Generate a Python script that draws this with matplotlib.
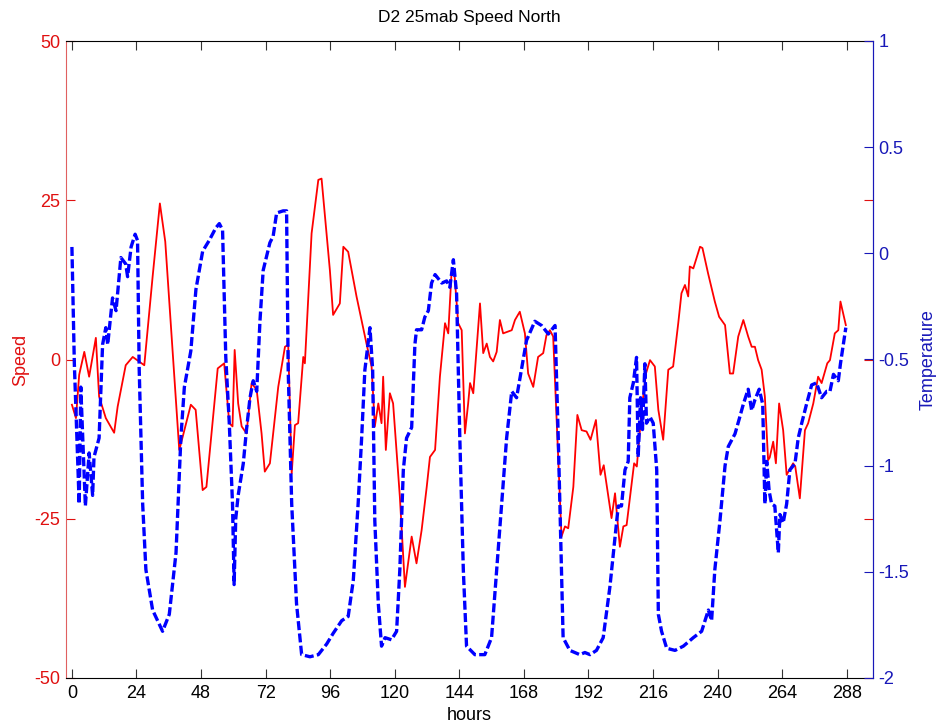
import matplotlib
matplotlib.use("Agg")
import matplotlib.pyplot as plt

plt.rcParams['font.family'] = ['Liberation Sans', 'DejaVu Sans']

# speed (red, left axis)
speed_hours = [0, 1.5, 2.7, 4.6, 6.4, 8.9, 10.1, 12.6, 15.7, 17,
               20, 22.6, 26.9, 30, 32.7, 34.7, 39.9, 41.2, 44.2, 46,
               48.6, 50, 54.2, 56.6, 58.5, 59.7, 60.5, 61.8, 63.1, 64.9,
               66.8, 68.7, 70.5, 71.7, 73.6, 76.7, 79.2, 80.4, 81.7, 82.9,
               84.1, 86, 86.6, 89.1, 91.6, 92.8, 95.9, 97.1, 99.6, 100.9,
               102.7, 105.8, 109.5, 111.4, 112.6, 113.9, 115.1, 115.7, 116.7, 118.2,
               119.4, 121.9, 123.8, 126.3, 128.1, 130, 131.9, 133.1, 135, 136.8,
               138.7, 139.9, 141.1, 142.1, 143.6, 144.9, 146.1, 147.3, 148, 149.2,
               151.7, 152.9, 154.2, 155.4, 156.6, 157.9, 159.1, 160.3, 163.5, 164.7,
               166.5, 168.4, 169.6, 171.5, 173.3, 175.2, 176.4, 177.7, 178.9, 182,
               183.3, 184.5, 186.4, 187.9, 189.5, 191.3, 192.8, 194.8, 196.5, 197.7,
               200.6, 201.9, 203.7, 205, 206.2, 209, 210, 211.8, 213.4, 214.9,
               216.7, 218, 219.8, 221.7, 223.5, 225.4, 226.6, 227.9, 229.1, 229.7,
               231, 233.5, 234.4, 236.5, 239, 240.6, 242.8, 244.6, 245.8, 247.7,
               249.6, 251.4, 252.7, 253.9, 255.1, 256.4, 257.6, 258.8, 259.4, 260.7,
               261.7, 262.9, 264.4, 265.7, 268.1, 268.9, 270.6, 272.5, 273.7, 275.6,
               277.4, 278.7, 280.8, 281.8, 283.6, 284.9, 285.7, 287.7]
speed = [-7.1, -9.2, -2.4, 1.2, -2.7, 3.4, -5.8, -9.2, -11.5, -7.4,
         -0.9, 0.4, -0.9, 13, 24.5, 18.5, -14.2, -12.1, -7.1, -7.9,
         -20.5, -20, -1.4, -0.6, -10, -10.5, 1.5, -6.9, -10.5, -11.6,
         -3.7, -4.8, -11.6, -17.6, -16.3, -4.3, 2, 2.3, -17.9, -10.3,
         -10, 0.4, -0.6, 19.8, 28.2, 28.4, 14, 7, 8.8, 17.7,
         16.9, 9.9, 2.5, -1.1, -10.5, -6.9, -10, -2.7, -14.2, -5.3,
         -6.9, -21.5, -35.7, -27.8, -32, -26.8, -20, -15.3, -14.2, -2.7,
         5.7, 4.1, 13.5, 14, 5.7, 4.6, -11.6, -6.9, -3.7, -5.3,
         8.8, 1, 2.5, 0.4, -0.3, 1.2, 6.2, 4.1, 4.6, 6.2,
         7.5, 4.1, -2.2, -4.3, 0.4, 1, 3.8, 4.6, 3.6, -27.8,
         -26.2, -26.5, -20, -8.7, -11.1, -11.3, -12.6, -9.5, -18.1, -16.6,
         -24.9, -21, -29.4, -26.2, -26, -16.3, -16.8, -7.9, -2.2, -0.1,
         -1.1, -7.9, -12.6, -1.6, -1.1, 5.7, 10.4, 11.7, 9.9, 14.6,
         14.3, 17.7, 17.5, 13.5, 9.1, 6.7, 5.4, -2.2, -2.2, 3.6,
         6.2, 3.6, 2, 2, -0.1, -1.6, -5.8, -15.8, -15.4, -12.9,
         -16.3, -6.9, -11.1, -18.1, -16.3, -16.8, -21.8, -11.1, -10, -6.9,
         -2.7, -3.7, -0.6, -0.1, 4.1, 4.6, 9.1, 5.4]

# temperature (blue, right axis)
temp_hours = [0, 0.9, 2.7, 3.3, 5, 6.4, 7.7, 8.2, 10.1, 11.4,
              12.6, 13.3, 15.1, 16.4, 18.2, 20, 20.7, 22, 23.5, 24.4,
              25, 26.3, 27.5, 30, 33.7, 36.2, 38.7, 40.5, 41.8, 44.2,
              46.1, 48.6, 51, 53.5, 54.8, 56, 57.2, 58.5, 59.7, 60.3,
              60.9, 61.8, 63.7, 64.9, 66.2, 67.4, 68.7, 69.9, 71.1, 73.6,
              74.8, 76.1, 78.5, 79.8, 80.4, 81.7, 83.5, 85.4, 88.5, 91.6,
              94.7, 97.1, 100.3, 102.7, 104.6, 106.4, 107.7, 108.9, 110.8, 111.8,
              112.6, 113.9, 115.1, 116.4, 118.8, 120.7, 121.9, 123.2, 124.4, 126.3,
              127.5, 128.1, 130, 131.2, 132.5, 133.7, 135, 137.5, 139.3, 140.5,
              141.8, 143, 144.2, 145.5, 146.7, 149.8, 153.5, 156, 157.9, 159.7,
              161.6, 163.5, 165.3, 167.2, 169, 172.1, 174.6, 177.1, 179.6, 180.8,
              182, 182.6, 185.1, 188.8, 190.7, 192.6, 195, 197.5, 200, 201.9,
              203.1, 204.3, 205.6, 206.8, 207.4, 208.7, 209.9, 210.5, 211.4, 212.1,
              213, 213.6, 214.9, 216.1, 217.4, 218, 219.2, 221.1, 224.2, 227.3,
              231, 234.1, 236.6, 237.8, 239, 240.9, 242.8, 244, 246.5, 248.3,
              249.6, 251.4, 252.7, 253.9, 255.5, 256.8, 257.6, 258.3, 259.2, 260.1,
              261.3, 262.6, 263.2, 264.4, 265.7, 266.9, 268.8, 270, 271.3, 273.1,
              275, 276.8, 278.7, 280.6, 281.8, 283.1, 284.9, 285.7, 287.7]
temp = [0.03, -0.52, -1.18, -0.63, -1.19, -0.94, -1.14, -0.96, -0.87, -0.43,
        -0.35, -0.43, -0.21, -0.27, -0.02, -0.05, -0.11, 0.03, 0.09, 0.06,
        -0.54, -1.18, -1.49, -1.68, -1.78, -1.70, -1.41, -0.87, -0.63, -0.46,
        -0.17, 0.01, 0.06, 0.12, 0.14, 0.11, -0.49, -0.80, -1.18, -1.56,
        -1.25, -1.14, -0.99, -0.83, -0.68, -0.60, -0.65, -0.32, -0.08, 0.05,
        0.08, 0.19, 0.20, 0.20, -0.55, -1.18, -1.65, -1.89, -1.90, -1.89,
        -1.84, -1.79, -1.73, -1.71, -1.54, -1.18, -0.87, -0.55, -0.35, -0.55,
        -1.26, -1.65, -1.85, -1.81, -1.82, -1.78, -1.49, -1.02, -0.87, -0.82,
        -0.43, -0.36, -0.36, -0.30, -0.27, -0.14, -0.10, -0.14, -0.13, -0.16,
        -0.03, -0.19, -0.87, -1.49, -1.85, -1.89, -1.89, -1.81, -1.49, -1.18,
        -0.87, -0.65, -0.68, -0.54, -0.41, -0.32, -0.34, -0.38, -0.34, -0.87,
        -1.49, -1.81, -1.87, -1.89, -1.88, -1.89, -1.87, -1.81, -1.57, -1.34,
        -1.19, -1.19, -1.02, -0.98, -0.68, -0.61, -0.49, -0.96, -0.68, -0.83,
        -0.52, -0.80, -0.77, -0.80, -1.02, -1.70, -1.78, -1.86, -1.87, -1.85,
        -1.81, -1.78, -1.68, -1.73, -1.49, -1.26, -1.0, -0.91, -0.85, -0.77,
        -0.71, -0.64, -0.74, -0.69, -0.64, -0.71, -1.18, -0.98, -1.12, -1.18,
        -1.19, -1.41, -1.23, -1.27, -1.18, -1.02, -0.99, -0.87, -0.80, -0.71,
        -0.62, -0.61, -0.68, -0.65, -0.65, -0.57, -0.60, -0.52, -0.35]

xticks = list(range(0, 289, 24))
speed_ticks = [-50, -25, 0, 25, 50]
temp_ticks = [-2, -1.5, -1, -0.5, 0, 0.5, 1]
temp_labels = ["-2", "-1.5", "-1", "-0.5", "0", "0.5", "1"]

RED = "#e01010"
BLUE = "#1818b8"
FS = 13

fig = plt.figure(figsize=(9.37, 7.28), dpi=100)
ax1 = fig.add_axes([66 / 937, 1 - 678 / 728, (873 - 66) / 937, (678 - 41) / 728])
ax2 = ax1.twinx()

ax1.plot(speed_hours, speed, color="red", lw=1.3)
ax2.plot(temp_hours, temp, color="#0000ff", lw=2.4, dashes=[2.7, 1.0])

ax1.set_xlim(-2.2, 297.8)
ax1.set_ylim(-50, 50)
ax2.set_ylim(-2, 1)

ax1.set_xticks(xticks)
ax1.set_yticks(speed_ticks)
ax1.set_yticklabels([str(v) for v in speed_ticks])
ax2.set_yticks(temp_ticks)
ax2.set_yticklabels(temp_labels)

ax1.tick_params(axis="x", direction="in", length=6.5, top=True, colors="#333333",
                labelcolor="black", labelsize=FS, pad=5)
ax1.tick_params(axis="y", direction="in", length=6.5, right=True, colors=RED,
                labelcolor=RED, labelsize=FS, pad=4)
ax2.tick_params(axis="y", direction="in", length=6.5, colors=BLUE,
                labelcolor=BLUE, labelsize=FS, pad=4)

ax1.spines["left"].set_color("#e06060")
ax1.spines["top"].set_color("black")
ax1.spines["bottom"].set_color("black")
ax1.spines["right"].set_color(BLUE)
ax2.spines["right"].set_color(BLUE)
ax2.spines["left"].set_visible(False)
ax2.spines["top"].set_visible(False)
ax2.spines["bottom"].set_visible(False)

ax1.set_title("D2 25mab Speed North", fontsize=FS - 0.5, pad=14)
ax1.set_xlabel("hours", fontsize=FS, labelpad=4)
ax1.set_ylabel("Speed", color=RED, fontsize=FS, labelpad=4)
ax2.set_ylabel("Temperature", color=BLUE, fontsize=FS, labelpad=7)

fig.savefig("out.png", dpi=100)
